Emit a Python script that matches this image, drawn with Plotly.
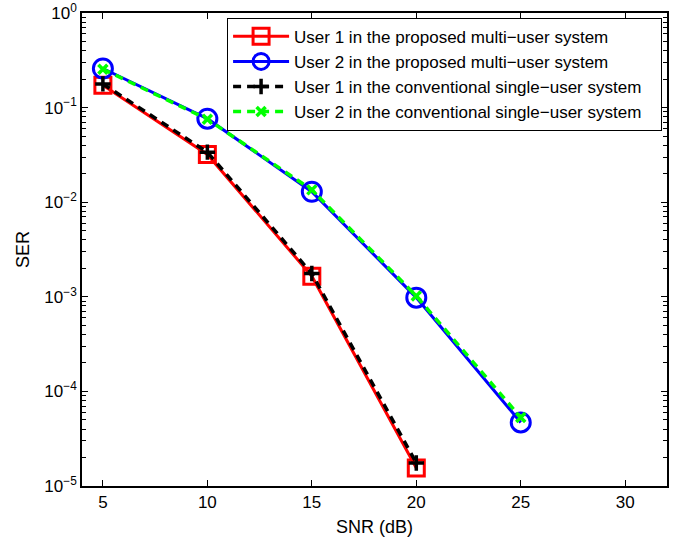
import plotly.graph_objects as go

snr_u1 = [5, 10, 15, 20]
snr_u2 = [5, 10, 15, 20, 25]
ser_u1_proposed = [0.172, 0.032, 1.65e-3, 1.55e-5]
ser_u2_proposed = [0.259, 0.0764, 0.0129, 9.8e-4, 4.7e-5]
ser_u1_conv = [0.178, 0.0338, 1.76e-3, 1.75e-5]
ser_u2_conv = [0.255, 0.0755, 0.0135, 1.02e-3, 5.3e-5]

names = [
    "User 1 in the proposed multi\u2212user system",
    "User 2 in the proposed multi\u2212user system",
    "User 1 in the conventional single\u2212user system",
    "User 2 in the conventional single\u2212user system",
]

x_ticks = [5, 10, 15, 20, 25, 30]
y_exps = [-5, -4, -3, -2, -1, 0]
y_tickvals = [10.0 ** e for e in y_exps]
y_ticktext = ["10<sup>\u2212%d</sup>" % (-e) if e < 0 else "10<sup>0</sup>" for e in y_exps]
y_minor = [k * 10.0 ** e for e in range(-5, 0) for k in range(2, 10)]

FONT = "Liberation Sans, Arial, Helvetica, sans-serif"
PAD = "\u00a0\u00a0\u00a0"

fig = go.Figure()
fig.add_trace(go.Scatter(
    x=snr_u1, y=ser_u1_proposed, name=names[0] + PAD, mode="lines+markers",
    line=dict(color="#FF0000", width=3),
    marker=dict(symbol="square-open", size=16, color="#FF0000", line=dict(width=3, color="#FF0000")),
))
fig.add_trace(go.Scatter(
    x=snr_u2, y=ser_u2_proposed, name=names[1] + PAD, mode="lines+markers",
    line=dict(color="#0000FF", width=3),
    marker=dict(symbol="circle-open", size=19, color="#0000FF", line=dict(width=3, color="#0000FF")),
))
fig.add_trace(go.Scatter(
    x=snr_u1, y=ser_u1_conv, name=names[2] + PAD, mode="lines+markers",
    line=dict(color="#000000", width=3.5, dash="8px,6px"),
    marker=dict(symbol="cross-thin", size=11, color="#000000", line=dict(width=3.5, color="#000000")),
))
fig.add_trace(go.Scatter(
    x=snr_u2, y=ser_u2_conv, name=names[3] + PAD, mode="lines+markers",
    line=dict(color="#00FF00", width=3.5, dash="8px,6px"),
    marker=dict(symbol="x-thin", size=9, color="#00FF00", line=dict(width=3.5, color="#00FF00")),
))

fig.update_layout(
    width=686, height=541,
    margin=dict(l=82, r=19, t=13, b=55, autoexpand=False),
    paper_bgcolor="white", plot_bgcolor="white",
    font=dict(family=FONT, size=17, color="black"),
    showlegend=True,
    legend=dict(
        x=0.248, y=0.99, xanchor="left", yanchor="top",
        bgcolor="white", bordercolor="black", borderwidth=1,
        font=dict(family=FONT, size=17, color="black"),
        itemwidth=56, tracegroupgap=0,
    ),
)
fig.update_xaxes(
    range=[4, 32], tickmode="array", tickvals=x_ticks, automargin=False,
    ticklabeloverflow="allow",
    ticks="inside", ticklen=6, tickwidth=1, tickcolor="black",
    showline=True, linecolor="black", linewidth=1.5, mirror="ticks",
    showgrid=False, zeroline=False,
    tickfont=dict(size=17),
    title=dict(text="SNR (dB)", font=dict(size=18), standoff=9),
)
fig.update_yaxes(
    type="log", range=[-5, 0], tickmode="array", tickvals=y_tickvals, ticktext=y_ticktext,
    automargin=False, ticklabeloverflow="allow",
    ticks="inside", ticklen=6, tickwidth=1, tickcolor="black",
    showline=True, linecolor="black", linewidth=1.5, mirror="ticks",
    showgrid=False, zeroline=False,
    minor=dict(tickmode="array", tickvals=y_minor, ticks="inside", ticklen=4, tickcolor="black", showgrid=False),
    tickfont=dict(size=17),
    title=dict(text="SER", font=dict(size=18), standoff=10),
)

fig.write_html("out.html", config={"displayModeBar": False},
               post_script="document.body.style.margin='0';")
